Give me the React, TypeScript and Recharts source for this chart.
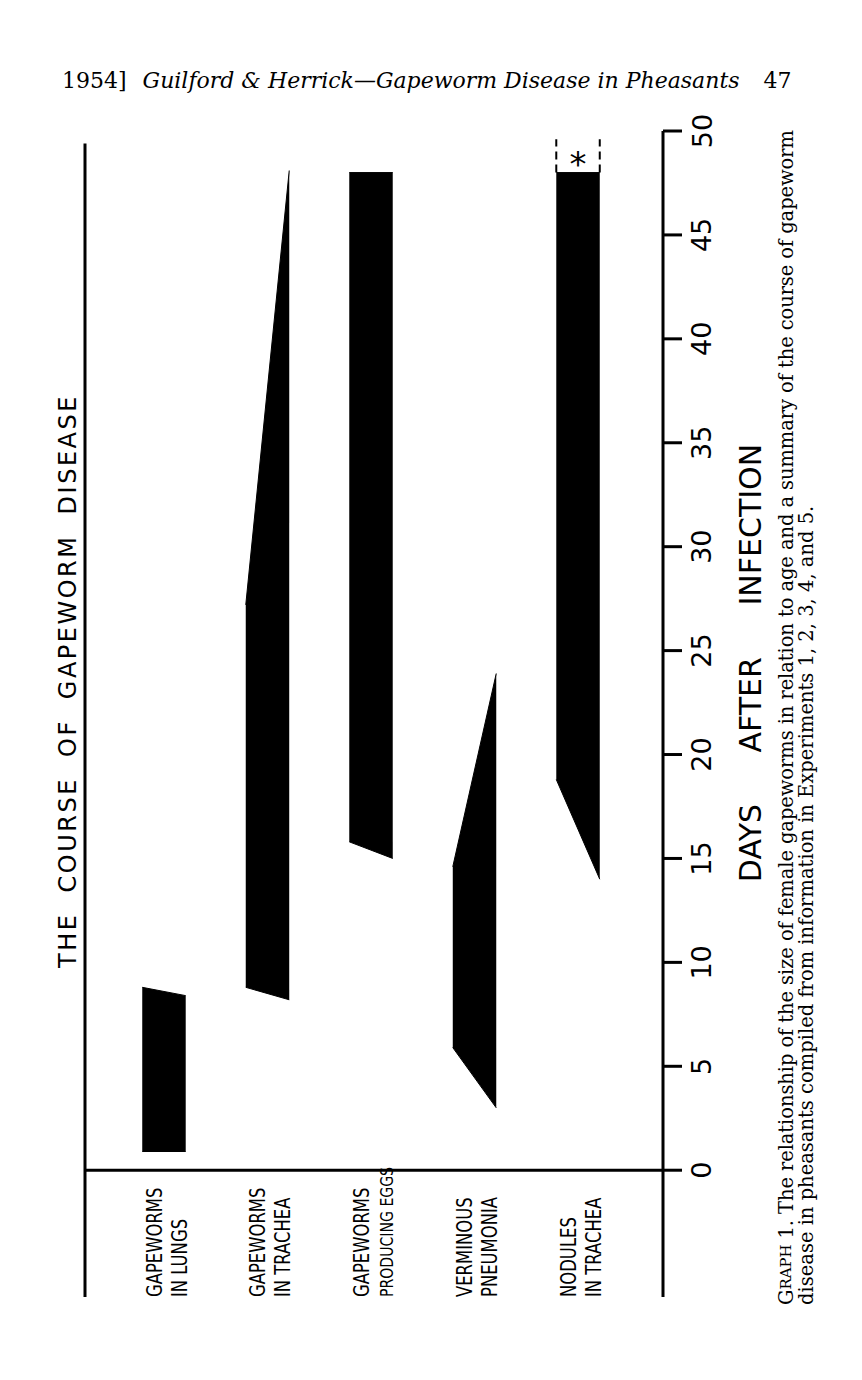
import React from "react";
import {
  ComposedChart,
  Area,
  XAxis,
  YAxis,
  ReferenceLine,
  ReferenceArea,
  Customized,
} from "recharts";

// stages of the disease, two printed lines each
const categories = [
  ["GAPEWORMS", "IN  LUNGS"],
  ["GAPEWORMS", "IN TRACHEA"],
  ["GAPEWORMS", "PRODUCING EGGS"],
  ["VERMINOUS", "PNEUMONIA"],
  ["NODULES", "IN TRACHEA"],
];

// days after infection, read on the left and right edge of each band
const leftStart = [0.9, 8.8, 15.8, 5.9, 18.8];
const leftEnd = [8.8, 27.2, 48.0, 14.6, 48.0];
const rightStart = [0.9, 8.2, 15.0, 3.0, 14.0];
const rightEnd = [8.4, 48.1, 48.0, 23.9, 48.0];

const dayTicks = [0, 5, 10, 15, 20, 25, 30, 35, 40, 45, 50];

// nodules: no data past day 48 (dashed box with asterisk)
const openStage = 4;
const openFrom = 48;
const openTo = 49.6;

const HALF = 0.21; // half width of a band, in category units
const X_MIN = -0.763;
const X_MAX = 4.821;
const Y_MIN = -6.1;

const rows: any[] = [];
categories.forEach((_, i) => {
  rows.push({ x: i - HALF, ["s" + i]: [leftStart[i], leftEnd[i]] });
  rows.push({ x: i + HALF, ["s" + i]: [rightStart[i], rightEnd[i]] });
});

const sans = "'DejaVu Sans', sans-serif";
const serif = "'DejaVu Serif', serif";

function DayTick(props: any) {
  const { x, y, payload } = props;
  const cx = x + 18;
  return (
    <text
      x={cx}
      y={y}
      transform={`rotate(-90 ${cx} ${y})`}
      textAnchor="middle"
      dominantBaseline="central"
      fontFamily={sans}
      fontSize={27}
      fill="#000"
    >
      {payload.value}
    </text>
  );
}

function StageTick(props: any) {
  const { x, y, payload } = props;
  const lines = categories[payload.value] || [];
  const offs = [-9, 16];
  return (
    <g>
      {lines.map((t, k) => {
        const lx = x + offs[k];
        const small = payload.value === 2 && k === 1;
        return (
          <text
            key={k}
            x={0}
            y={0}
            transform={`translate(${lx} ${y}) rotate(-90) scale(0.87 1)`}
            textAnchor="start"
            dominantBaseline="central"
            fontFamily="'DejaVu Sans Condensed', 'DejaVu Sans', sans-serif"
            fontSize={small ? 18 : 21}
            fill="#000"
          >
            {t}
          </text>
        );
      })}
    </g>
  );
}

function DaysLabel(props: any) {
  const { viewBox } = props;
  const cx = viewBox.x + 87;
  const cy = 663;
  return (
    <text
      x={cx}
      y={cy}
      transform={`rotate(-90 ${cx} ${cy})`}
      textAnchor="middle"
      dominantBaseline="central"
      fontFamily={sans}
      fontSize={30}
      wordSpacing={42}
      fill="#000"
    >
      DAYS AFTER INFECTION
    </text>
  );
}

function PageText() {
  return (
    <g fill="#000">
      <text x={62} y={88} fontFamily={serif} fontSize={22}>
        <tspan>1954]</tspan>
        <tspan dx={16} fontStyle="italic">
          Guilford &amp; Herrick—Gapeworm Disease in Pheasants
        </tspan>
        <tspan dx={24}>47</tspan>
      </text>
      <text
        x={68}
        y={681}
        transform="rotate(-90 68 681)"
        textAnchor="middle"
        dominantBaseline="central"
        fontFamily={sans}
        fontSize={24}
        letterSpacing={2.5}
        wordSpacing={10}
      >
        THE COURSE OF GAPEWORM DISEASE
      </text>
      <text
        x={786}
        y={1305}
        transform="rotate(-90 786 1305)"
        dominantBaseline="central"
        fontFamily={serif}
        fontSize={19.5}
        textLength={1175}
        lengthAdjust="spacing"
      >
        <tspan>G</tspan>
        <tspan fontSize={15}>RAPH</tspan>
        <tspan> 1. The relationship of the size of female gapeworms in relation to age and a summary of the course of gapeworm</tspan>
      </text>
      <text
        x={806}
        y={1305}
        transform="rotate(-90 806 1305)"
        dominantBaseline="central"
        fontFamily={serif}
        fontSize={19.5}
      >
        disease in pheasants compiled from information in Experiments 1, 2, 3, 4, and 5.
      </text>
    </g>
  );
}

export default function App() {
  return (
    <div style={{ position: "absolute", left: 0, top: 0, width: 862, height: 1380, background: "#fff" }}>
      <ComposedChart
        width={862}
        height={1380}
        data={rows}
        margin={{ top: 131, right: 89, bottom: 82, left: 85 }}
      >
        <XAxis
          dataKey="x"
          type="number"
          domain={[X_MIN, X_MAX]}
          allowDataOverflow
          ticks={[0, 1, 2, 3, 4]}
          interval={0}
          axisLine={false}
          tickLine={false}
          tickSize={0}
          tickMargin={0}
          height={1}
          tick={<StageTick />}
        />
        <YAxis
          orientation="right"
          type="number"
          domain={[Y_MIN, 50]}
          allowDataOverflow
          ticks={dayTicks}
          interval={0}
          width={110}
          axisLine={{ stroke: "#000", strokeWidth: 3 }}
          tickLine={{ stroke: "#000", strokeWidth: 3 }}
          tickSize={19}
          tick={<DayTick />}
          label={<DaysLabel />}
        />
        <ReferenceLine y={0} stroke="#000" strokeWidth={3} />
        <ReferenceLine
          segment={[
            { x: X_MIN, y: Y_MIN },
            { x: X_MIN, y: 49.4 },
          ]}
          stroke="#000"
          strokeWidth={3}
        />
        {categories.map((_, i) => (
          <Area
            key={i}
            type="linear"
            dataKey={"s" + i}
            stroke="#000"
            strokeWidth={1}
            fill="#000"
            fillOpacity={1}
            connectNulls={false}
            dot={false}
            activeDot={false}
            isAnimationActive={false}
          />
        ))}
        <ReferenceLine
          segment={[
            { x: openStage - HALF, y: openFrom },
            { x: openStage - HALF, y: openTo },
          ]}
          stroke="#000"
          strokeWidth={2}
          strokeDasharray="8 5"
        />
        <ReferenceLine
          segment={[
            { x: openStage + HALF, y: openFrom },
            { x: openStage + HALF, y: openTo },
          ]}
          stroke="#000"
          strokeWidth={2}
          strokeDasharray="8 5"
        />
        <ReferenceArea
          x1={openStage - HALF}
          x2={openStage + HALF}
          y1={openFrom}
          y2={openTo}
          fill="none"
          stroke="none"
          label={{ value: "*", position: "center", fontSize: 34, fill: "#000", fontFamily: sans, dy: 8 }}
        />
        <Customized component={<PageText />} />
      </ComposedChart>
    </div>
  );
}
